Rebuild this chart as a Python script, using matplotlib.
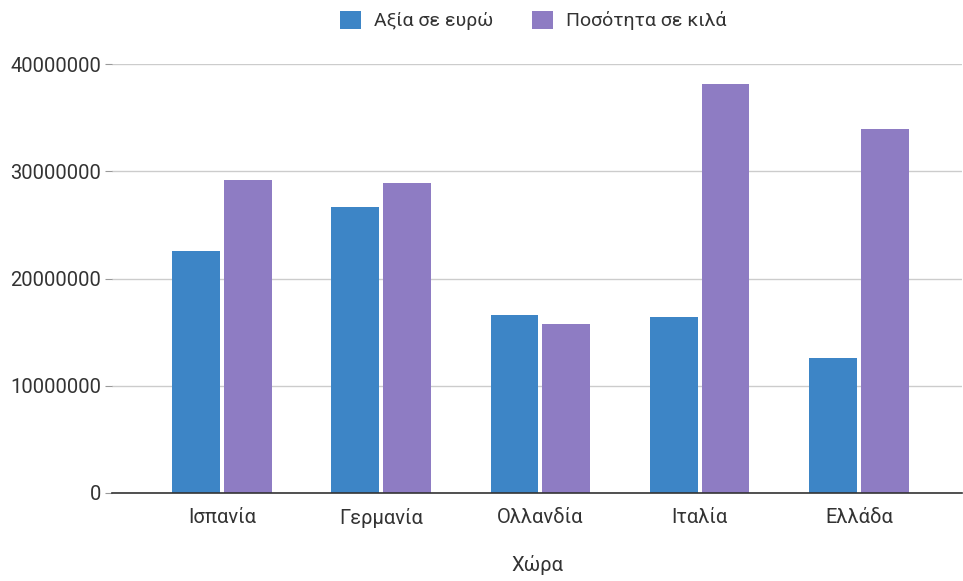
import matplotlib.pyplot as plt
import numpy as np

plt.rcParams['font.family'] = ['Roboto', 'DejaVu Sans']

countries = ['Ισπανία', 'Γερμανία', 'Ολλανδία', 'Ιταλία', 'Ελλάδα']
value_eur = [22600000, 26700000, 16550000, 16400000, 12600000]
quantity_kg = [29200000, 28900000, 15750000, 38100000, 33900000]
series_labels = ['Αξία σε ευρώ', 'Ποσότητα σε κιλά']
colors = ['#3d85c6', '#8e7cc3']

fig = plt.figure(figsize=(9.63, 5.81), dpi=100)
ax = fig.add_axes([0.1163, 0.1515, 0.883, 0.7383])

x = np.arange(len(countries))
width = 0.30
gap = 0.013
b1 = ax.bar(x - width / 2 - gap, value_eur, width, color=colors[0], label=series_labels[0], zorder=3)
b2 = ax.bar(x + width / 2 + gap, quantity_kg, width, color=colors[1], label=series_labels[1], zorder=3)

ax.set_xlim(-0.69, 4.65)
ax.set_ylim(0, 40000000)
ax.set_yticks([0, 10000000, 20000000, 30000000, 40000000])
ax.set_yticklabels(['0', '10000000', '20000000', '30000000', '40000000'])
ax.set_xticks(x)
ax.set_xticklabels(countries)

ax.grid(axis='y', color='#cccccc', linewidth=1, zorder=0)
for side in ['top', 'right', 'left']:
    ax.spines[side].set_visible(False)
ax.spines['bottom'].set_color('#333333')
ax.spines['bottom'].set_linewidth(1.2)
ax.spines['bottom'].set_zorder(4)

ax.tick_params(axis='y', length=5, color='#999999', labelsize=14.5, labelcolor='#333333', pad=3)
ax.tick_params(axis='x', length=0, labelsize=14.5, labelcolor='#333333', pad=11)

ax.set_xlabel('Χώρα', fontsize=14.5, color='#333333', labelpad=19)

fig.legend(handles=[b1, b2], labels=series_labels, loc='center', bbox_to_anchor=(0.554, 0.965),
           ncol=2, frameon=False, fontsize=14, handlelength=1.05, handleheight=1.05,
           columnspacing=2.0, handletextpad=0.7, labelcolor='#333333')

plt.savefig('out.png', dpi=100)
plt.close()
